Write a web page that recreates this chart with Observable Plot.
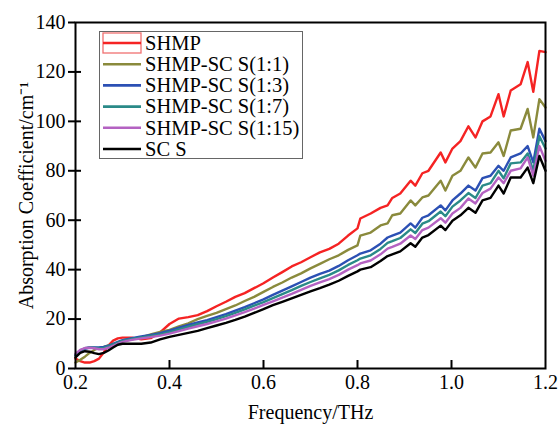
<!DOCTYPE html>
<html>
<head>
<meta charset="utf-8">
<script src="https://cdn.jsdelivr.net/npm/d3@7"></script>
<script src="https://cdn.jsdelivr.net/npm/@observablehq/plot@0.6"></script>
<style>
  html, body { margin: 0; padding: 0; background: #fff; }
  #wrap { position: relative; width: 559px; height: 428px; font-family: "Liberation Serif", "Times New Roman", serif; }
  #legend { position: absolute; left: 99px; top: 31px; width: 204px; height: 128px; border: 1px solid #666; box-sizing: border-box; background: #fff; }
  #legend svg { display: block; overflow: visible; }
</style>
</head>
<body>
<div id="wrap"><div id="chart"></div><div id="legend"></div></div>
<script>
// ---- data ----
const freq = [0.20,0.21,0.22,0.23,0.24,0.25,0.26,0.27,0.28,0.29,0.30,0.32,0.34,0.36,0.38,0.40,0.42,0.44,0.46,0.48,0.50,0.52,0.54,0.56,0.58,0.60,0.62,0.64,0.66,0.68,0.70,0.72,0.74,0.76,0.78,0.80,0.806,0.828,0.849,0.864,0.874,0.891,0.913,0.923,0.938,0.951,0.977,0.987,1.002,1.019,1.036,1.051,1.066,1.083,1.100,1.111,1.126,1.147,1.162,1.174,1.187,1.20];

const shmp = [4,3,2.4,2.4,3,4,6.5,9.3,11.3,12.2,12.5,12.5,11.8,12.3,14.6,18,20.2,20.8,21.6,23.2,25.2,27,29,30.5,32.5,34.5,36.8,39,41.3,43,45,47,48.4,50.5,53.8,56.7,60.7,62.7,65,66,69,70.8,76,74,79,80,87.4,83.4,89,92,98,93.5,100,102,111,102,112.5,115,124,112,128.5,128];
const r1_1 = [2.4,3.5,4.8,6.3,7.5,8.3,8.7,9.3,9.9,10.4,11,11.8,12.6,13.8,14.8,15.6,17,18.3,20,21.3,22.5,24,25.5,27.3,29,31,33,34.8,36.8,38.5,40.5,42.3,44.2,45.8,48,49.8,53.8,55,57.9,58.7,62,62.7,68,66,69.2,70,76,72,78,80,85.4,81.3,87,87.4,91.5,86,96.3,97,105,93.5,109,105.6];
const r1_3 = [5.3,7,8,8.5,8.5,8.5,8.7,9.2,10,10.8,11.5,12.3,13,13.6,14.3,15.3,16.5,17.6,18.6,19.6,20.8,22,23.4,24.8,26.4,28,29.8,31.5,33.2,35,36.8,38.3,39.6,41.5,43.8,45.8,46.5,47.8,50.5,53,53.8,55,58.7,57,61,62,66,64,68,70.8,74,72,77,78,82,80,85.4,87,90,83.4,97,92];
const r1_7 = [5.5,7.3,8.2,8.5,8.4,8.2,8.3,8.9,9.7,10.5,11.2,12,12.6,13.2,13.8,14.7,15.8,16.9,17.9,18.9,20,21.2,22.5,23.9,25.4,26.9,28.5,30.1,31.7,33.4,35,36.5,37.9,39.7,41.9,43.8,44.5,45.8,48.4,50.8,51.5,52.8,56.3,54.8,58.6,59.6,63.5,61.6,65.5,68,71,69,74,75,80,77,83,83.4,87,80,94,89];
const r1_15 = [6,7.5,8.3,8.4,8.2,7.8,7.8,8.4,9.2,10,10.8,11.6,12.2,12.7,13.3,14.1,15.1,16.1,17.1,18,19.1,20.2,21.5,22.8,24.2,25.7,27.2,28.7,30.2,31.8,33.4,34.8,36.2,37.9,40,41.8,42.5,43.7,46.2,48.5,49.2,50.5,53.8,52.4,56,57,60.8,59,62.7,65,68.8,66.8,71,72.8,77.3,75,80,81,85.4,78,90,84];
const scs = [4.5,6.3,7,6.8,6.2,5.8,6.3,7.3,8.5,9.6,10,10,10,10.5,11.8,12.8,13.6,14.4,15.2,16.3,17.4,18.5,19.7,21,22.5,24,25.6,27,28.4,29.8,31.2,32.5,33.9,35.5,37.5,39.3,40,41,43.5,45.5,46.2,47.4,50.7,49.3,53,54,57.8,56,59.8,62,65,63,68,69,74,70.8,77.3,77.3,81.3,75,86,80];

const seriesNames = ["SHMP","SHMP-SC S(1:1)","SHMP-SC S(1:3)","SHMP-SC S(1:7)","SHMP-SC S(1:15)","SC S"];
const seriesColors = ["#f52323","#8a8a3c","#2c50b4","#2a8a88","#b462c2","#000000"];
const xTicks = [0.2,0.4,0.6,0.8,1.0,1.2];
const yTicks = [0,20,40,60,80,100,120,140];
const xTitle = "Frequency/THz";
const yTitle = "Absorption Coefficient/cm\u207B\u00B9";

// ---- build table ----
const allSeries = [shmp, r1_1, r1_3, r1_7, r1_15, scs];
const table = allSeries.flatMap((vals, i) => vals.map((v, j) => ({f: freq[j], v, name: seriesNames[i]})));

const chart = Plot.plot({
  width: 559,
  height: 428,
  marginLeft: 75,
  marginRight: 14,
  marginTop: 22,
  marginBottom: 60,
  style: {fontFamily: "Liberation Serif, Times New Roman, serif", fontSize: "20px", color: "#000", background: "#fff"},
  x: {domain: [0.2, 1.2]},
  y: {domain: [0, 140]},
  color: {domain: seriesNames, range: seriesColors},
  marks: [
    Plot.line(table, {x: "f", y: "v", z: "name", stroke: "name", strokeWidth: 2.4, strokeLinejoin: "round"}),
    Plot.frame({stroke: "#000", strokeWidth: 2}),
    Plot.axisX({ticks: xTicks, tickFormat: d => d.toFixed(1), tickSize: 0, tickPadding: 6, fontSize: 20,
                label: xTitle, labelAnchor: "center", labelOffset: 50, labelArrow: "none", fontSize: 20}),
    Plot.axisX({ticks: xTicks.slice(1, -1), tickSize: -8, text: null, label: null, strokeWidth: 2}),
    Plot.axisY({ticks: yTicks, tickSize: 7, tickPadding: 3, fontSize: 20, strokeWidth: 2,
                label: yTitle, labelAnchor: "center", labelOffset: 57, labelArrow: "none"}),
    Plot.axisY({ticks: yTicks.slice(1, -1), tickSize: -6, text: null, label: null, strokeWidth: 2})
  ]
});
document.getElementById("chart").appendChild(chart);

// ---- legend (HTML overlay built from the same arrays) ----
const lg = d3.select("#legend").append("svg").attr("width", 202).attr("height", 126);
seriesNames.forEach((name, i) => {
  const cy = 11 + i * 21.2;
  const g = lg.append("g").attr("transform", `translate(0,${cy})`);
  if (i === 0) {
    g.append("rect").attr("x", 3).attr("y", -10).attr("width", 38).attr("height", 20)
      .attr("fill", "none").attr("stroke", "#f07070").attr("stroke-width", 1.3);
  }
  g.append("line").attr("x1", 3).attr("x2", 41).attr("y1", 0).attr("y2", 0)
    .attr("stroke", seriesColors[i]).attr("stroke-width", 2.6);
  g.append("text").attr("x", 45).attr("y", 0).attr("dy", "0.33em")
    .attr("font-family", "Liberation Serif, Times New Roman, serif").attr("font-size", 20.5)
    .attr("fill", "#000").text(name);
});
</script>
</body>
</html>
